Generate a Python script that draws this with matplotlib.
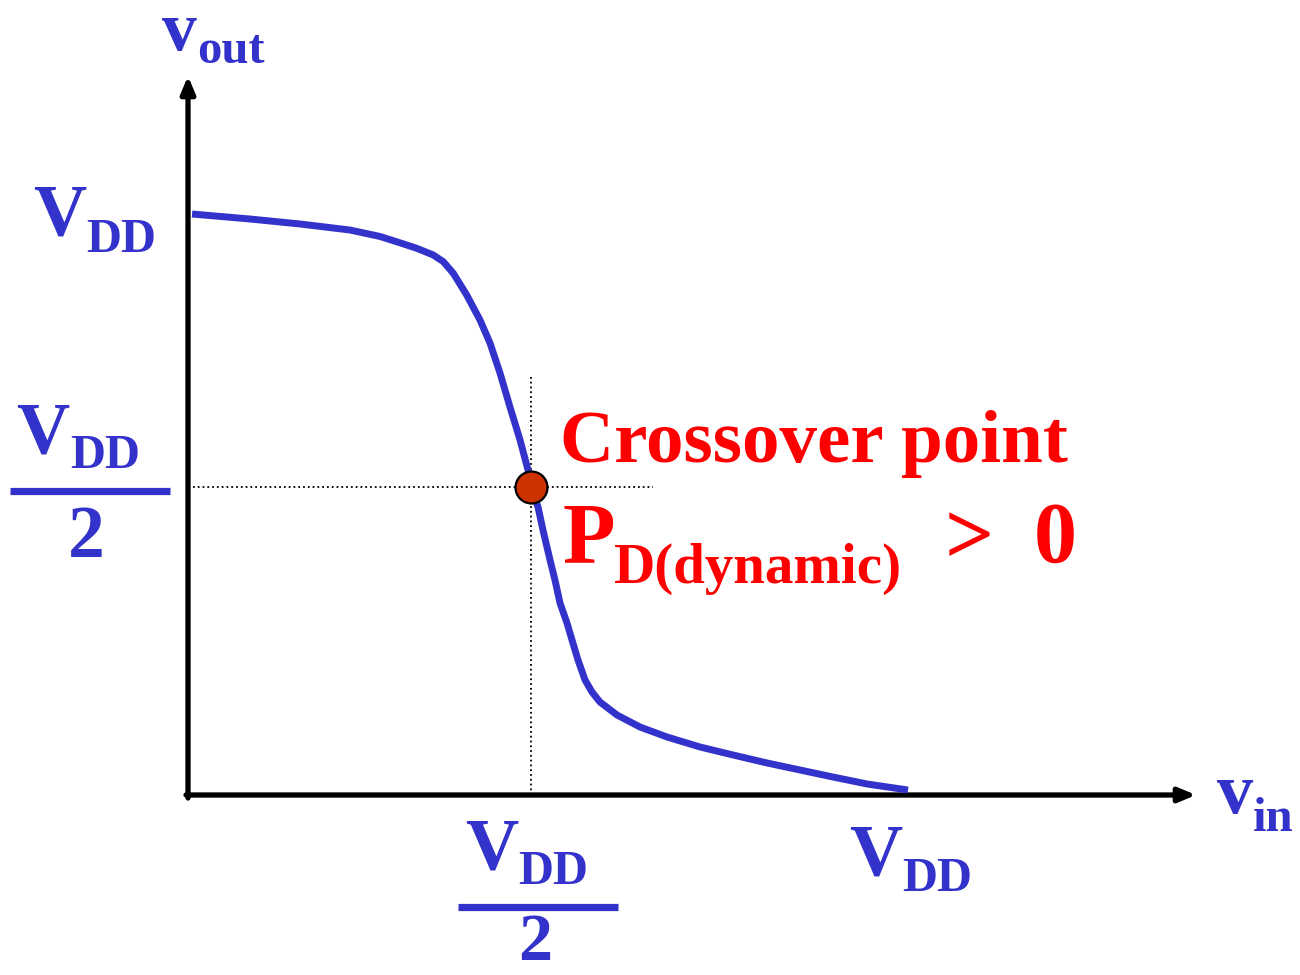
import matplotlib
matplotlib.use('Agg')
import matplotlib.pyplot as plt

# transfer curve of the inverter, in units of VDD
vin = [0.0056, 0.0862, 0.1558, 0.2253, 0.2670, 0.2949, 0.3181, 0.3412, 0.3551,
       0.3690, 0.3876, 0.4061, 0.4200, 0.4339, 0.4478, 0.4618, 0.4729, 0.4771,
       0.4868, 0.4937, 0.5035, 0.5104, 0.5174, 0.5271, 0.5341, 0.5424, 0.5522,
       0.5619, 0.5730, 0.5967, 0.6287, 0.6662, 0.7121, 0.7580, 0.8053, 0.8512,
       0.8971, 0.9444, 1.0014]
vout = [1.0017, 0.9931, 0.9845, 0.9741, 0.9630, 0.9520, 0.9426, 0.9310, 0.9195,
        0.8995, 0.8621, 0.8190, 0.7793, 0.7276, 0.6690, 0.6121, 0.5603, 0.5310,
        0.4966, 0.4569, 0.4052, 0.3707, 0.3310, 0.2966, 0.2672, 0.2328, 0.1983,
        0.1776, 0.1603, 0.1379, 0.1172, 0.1000, 0.0828, 0.0690, 0.0552, 0.0431,
        0.0310, 0.0190, 0.0086]
cross_x = 0.4771
cross_y = 0.5310

blue = '#3333CC'
red = '#FF0000'
font = 'Liberation Serif'

# reference pixel -> data units (origin at 188,795; VDD = 719 px wide, 580 px high)
def dx(px):
    return (px - 188) / 719.0

def dy(py):
    return (795 - py) / 580.0

fig = plt.figure(figsize=(13, 9.75), dpi=100)
ax = fig.add_axes([0, 0, 1, 1])
ax.set_xlim(dx(0), dx(1300))
ax.set_ylim(dy(975), dy(0))
ax.axis('off')

# axes with arrows
arrow = dict(arrowstyle='-|>,head_length=1.0,head_width=0.42',
             lw=3.8, color='black', shrinkA=0, shrinkB=0)
ax.annotate('', xy=(0, dy(76)), xytext=(0, dy(798)), arrowprops=arrow)
ax.annotate('', xy=(dx(1196), 0), xytext=(dx(186), 0), arrowprops=arrow)

# dotted guides
ax.plot([dx(193), dx(653)], [cross_y, cross_y], color='black', lw=1.3, ls=':')
ax.plot([cross_x, cross_x], [0, dy(375)], color='black', lw=1.3, ls=':')

ax.plot(vin, vout, color=blue, lw=5, solid_capstyle='butt',
        solid_joinstyle='round', zorder=3)
ax.plot([cross_x], [cross_y], 'o', ms=23, mfc='#CC3300', mec='black', mew=1.6, zorder=4)

def put(px, py, s, size, color=blue, ha='left'):
    ax.text(dx(px), dy(py), s, fontsize=size, color=color, fontfamily=font,
            fontweight='bold', ha=ha, va='baseline')

# axis names
put(162, 50, 'v', 50)
put(197, 63, 'out', 35)
put(1217, 813, 'v', 52)
put(1253, 831, 'in', 35)

# VDD on y axis
put(33, 235, 'V', 53)
put(86, 252, 'DD', 35)

# VDD/2 on y axis
put(16, 453, 'V', 53)
put(70, 468, 'DD', 35)
ax.plot([dx(10), dx(170)], [dy(490.5), dy(490.5)], color=blue, lw=5.2, solid_capstyle='butt')
put(86, 557, '2', 53, ha='center')

# VDD/2 on x axis
put(465, 869, 'V', 53)
put(518, 884, 'DD', 35)
ax.plot([dx(458), dx(618)], [dy(906.5), dy(906.5)], color=blue, lw=5.2, solid_capstyle='butt')
put(535, 960, '2', 49, ha='center')

# VDD on x axis
put(849, 875, 'V', 53)
put(902, 891, 'DD', 35)

# annotation
put(560, 462, 'Crossover point', 54, color=red)
put(563, 562, 'P', 62, color=red)
put(614, 583, 'D(dynamic)', 41, color=red)
put(945, 563, '>', 62, color=red)
put(1034, 562, '0', 62, color=red)

fig.savefig('out.png', dpi=100)
